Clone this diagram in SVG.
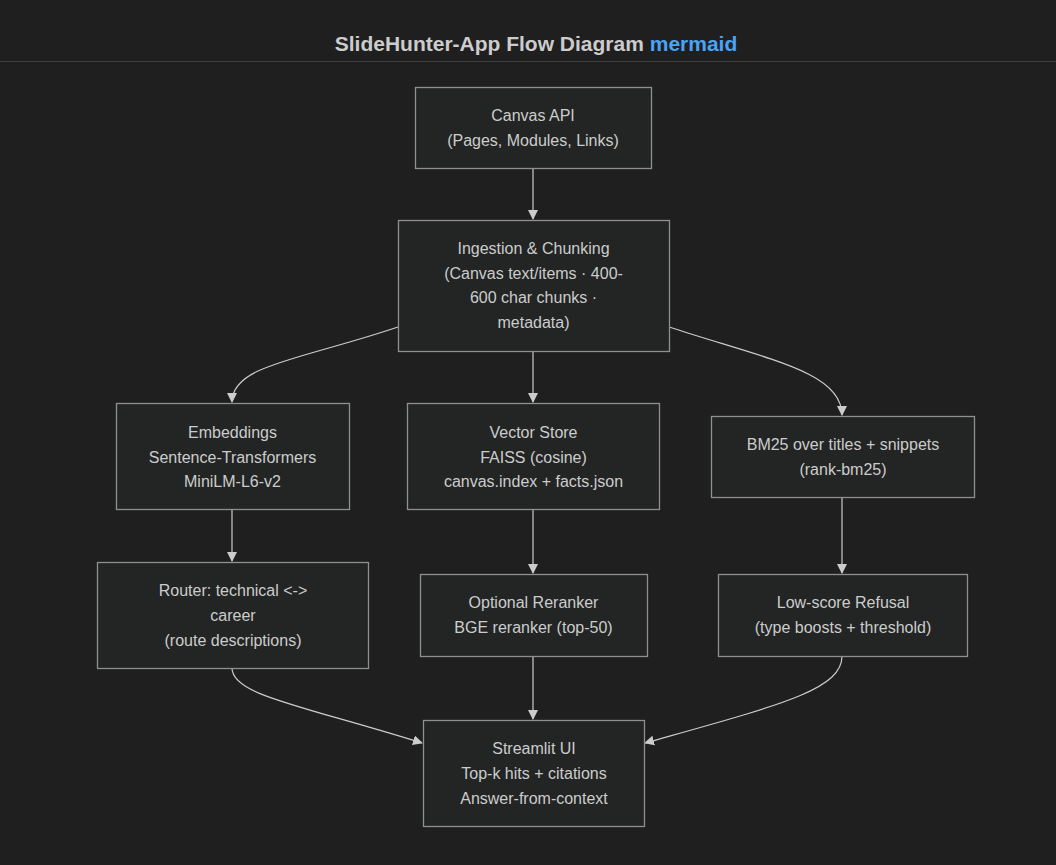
<svg xmlns="http://www.w3.org/2000/svg" width="1056" height="865" viewBox="0 0 1056 865">
<style>
.bg{fill:#1f1f1f}
.node rect{fill:#222524;stroke:#8f8f8f;stroke-width:1.3}
.node text{fill:#cccccc;font-family:"Liberation Sans",Arial,sans-serif;font-size:16px;text-anchor:middle}
.edge{fill:none;stroke:#cccccc;stroke-width:1.2}
.title{font-family:"Liberation Sans",Arial,sans-serif;font-size:21px;font-weight:bold;fill:#cccccc;text-anchor:middle}
</style>
<defs>
<marker id="arr" viewBox="0 0 10 10" refX="9" refY="5" markerWidth="10" markerHeight="10" markerUnits="userSpaceOnUse" orient="auto">
<path d="M0,0 L10,5 L0,10 z" fill="#cccccc"/>
</marker>
</defs>
<rect class="bg" x="0" y="0" width="1056" height="865"/>
<text class="title" x="536" y="51">SlideHunter-App Flow Diagram <tspan fill="#4aa3f5">mermaid</tspan></text>
<line x1="0" y1="61.5" x2="1056" y2="61.5" stroke="#3d3d3d" stroke-width="1"/>

<g id="connectors">
<path class="edge" marker-end="url(#arr)" d="M533,168 L533,219"/>
<path class="edge" marker-end="url(#arr)" d="M398,327 C300,360 232,365 232,402"/>
<path class="edge" marker-end="url(#arr)" d="M533,352 L533,402"/>
<path class="edge" marker-end="url(#arr)" d="M669,327 C770,360 842,372 842,415"/>
<path class="edge" marker-end="url(#arr)" d="M232,510 L232,561"/>
<path class="edge" marker-end="url(#arr)" d="M533,510 L533,573"/>
<path class="edge" marker-end="url(#arr)" d="M842,497 L842,573"/>
<path class="edge" marker-end="url(#arr)" d="M232,668 C232,695 300,705 422,743"/>
<path class="edge" marker-end="url(#arr)" d="M533,656 L533,719"/>
<path class="edge" marker-end="url(#arr)" d="M842,656 C842,690 780,705 645,743"/>
</g>

<g id="canvas" class="node">
<rect x="415.5" y="87.5" width="236" height="81"/>
<text x="533" y="121">Canvas API</text>
<text x="533" y="146">(Pages, Modules, Links)</text>
</g>
<g id="ingestion" class="node">
<rect x="398.5" y="220.5" width="271" height="131"/>
<text x="533.5" y="254">Ingestion &amp; Chunking</text>
<text x="533.5" y="279">(Canvas text/items · 400-</text>
<text x="533.5" y="303">600 char chunks ·</text>
<text x="533.5" y="328">metadata)</text>
</g>
<g id="embeddings" class="node">
<rect x="116.5" y="403.5" width="233" height="106"/>
<text x="232.5" y="438">Embeddings</text>
<text x="232.5" y="463">Sentence-Transformers</text>
<text x="232.5" y="487">MiniLM-L6-v2</text>
</g>
<g id="vector" class="node">
<rect x="407.5" y="403.5" width="252" height="106"/>
<text x="533.5" y="438">Vector Store</text>
<text x="533.5" y="463">FAISS (cosine)</text>
<text x="533.5" y="487">canvas.index + facts.json</text>
</g>
<g id="bm25" class="node">
<rect x="711.5" y="416.5" width="263" height="81"/>
<text x="843" y="450">BM25 over titles + snippets</text>
<text x="843" y="475">(rank-bm25)</text>
</g>
<g id="router" class="node">
<rect x="97.5" y="562.5" width="271" height="106"/>
<text x="233" y="596">Router: technical &lt;-&gt;</text>
<text x="233" y="621">career</text>
<text x="233" y="646">(route descriptions)</text>
</g>
<g id="reranker" class="node">
<rect x="420.5" y="574.5" width="227" height="82"/>
<text x="533.5" y="608">Optional Reranker</text>
<text x="533.5" y="633">BGE reranker (top-50)</text>
</g>
<g id="refusal" class="node">
<rect x="718.5" y="574.5" width="249" height="82"/>
<text x="843" y="608">Low-score Refusal</text>
<text x="843" y="633">(type boosts + threshold)</text>
</g>
<g id="streamlit" class="node">
<rect x="423.5" y="720.5" width="221" height="106"/>
<text x="534" y="754">Streamlit UI</text>
<text x="534" y="779">Top-k hits + citations</text>
<text x="534" y="804">Answer-from-context</text>
</g>
</svg>
